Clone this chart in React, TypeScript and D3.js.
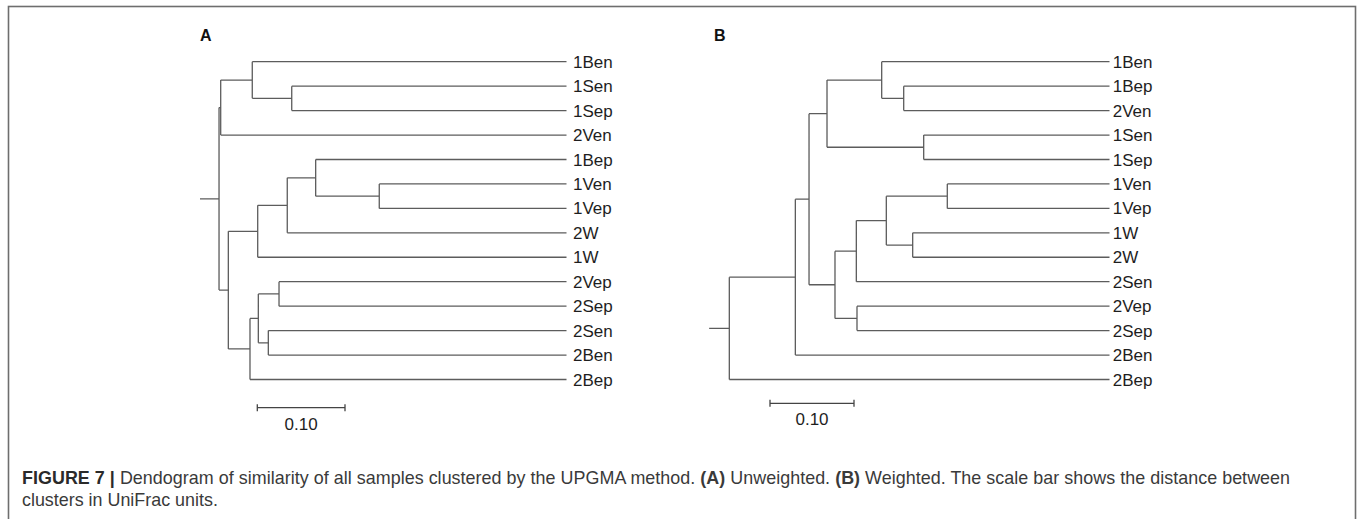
import React from "react";
import * as d3 from "d3";

// Leaf order and UPGMA merges (child a, child b, node height in UniFrac units).
// Children refer to a leaf name or to the index of an earlier merge.
const leavesA = ["1Ben", "1Sen", "1Sep", "2Ven", "1Bep", "1Ven", "1Vep", "2W", "1W", "2Vep", "2Sep", "2Sen", "2Ben", "2Bep"];
const mergesA: [string | number, string | number, number][] = [
  ["1Sen", "1Sep", 0.3133],
  ["1Ben", 0, 0.3583],
  [1, "2Ven", 0.3943],
  ["1Ven", "1Vep", 0.2135],
  ["1Bep", 3, 0.286],
  [4, "2W", 0.3184],
  [5, "1W", 0.3521],
  ["2Vep", "2Sep", 0.3278],
  ["2Sen", "2Ben", 0.34],
  [7, 8, 0.3514],
  [9, "2Bep", 0.3609],
  [6, 10, 0.3856],
  [2, 11, 0.3962],
];

const leavesB = ["1Ben", "1Bep", "2Ven", "1Sen", "1Sep", "1Ven", "1Vep", "1W", "2W", "2Sen", "2Vep", "2Sep", "2Ben", "2Bep"];
const mergesB: [string | number, string | number, number][] = [
  ["1Bep", "2Ven", 0.245],
  ["1Ben", 0, 0.2712],
  ["1Sen", "1Sep", 0.2212],
  [1, 2, 0.3363],
  ["1Ven", "1Vep", 0.1931],
  ["1W", "2W", 0.2343],
  [4, 5, 0.2657],
  [6, "2Sen", 0.3014],
  ["2Vep", "2Sep", 0.3006],
  [7, 8, 0.3268],
  [3, 9, 0.3577],
  [10, "2Ben", 0.374],
  [11, "2Bep", 0.4526],
];

const rootEdgeA = 0.0217;
const rootEdgeB = 0.024;
const scaleBarValue = 0.1;
const scaleBarLabel = "0.10";

type TNode = { name?: string; height: number; children?: TNode[] };

function buildTree(merges: [string | number, string | number, number][]): TNode {
  const built: TNode[] = [];
  const ref = (c: string | number): TNode =>
    typeof c === "number" ? built[c] : { name: c, height: 0 };
  merges.forEach(([a, b, h]) => built.push({ height: h, children: [ref(a), ref(b)] }));
  return built[built.length - 1];
}

type PanelProps = {
  letter: string;
  leaves: string[];
  merges: [string | number, string | number, number][];
  rootEdge: number;
  tipX: number;
  pxPerBar: number;
  letterX: number;
  barX: number;
  barY: number;
  labelGap: number;
};

const LINE = "#5c5c5c";
const TEXT = "#1e1e1e";
const FONT = "'Liberation Sans', Arial, Helvetica, sans-serif";

function Dendrogram(p: PanelProps) {
  const root = d3.hierarchy<TNode>(buildTree(p.merges));
  const x = d3.scaleLinear().domain([0, scaleBarValue]).range([p.tipX, p.tipX - p.pxPerBar]);
  const y = d3.scalePoint<string>().domain(p.leaves).range([61.7, 379.5]);

  const pos = new Map<d3.HierarchyNode<TNode>, number>();
  root.eachAfter((n) => {
    if (!n.children) pos.set(n, y(n.data.name!)!);
    else pos.set(n, d3.mean(n.children, (c) => pos.get(c)!)!);
  });

  const segs: string[] = [];
  root.each((n) => {
    if (!n.children) return;
    const nx = x(n.data.height);
    const ys = n.children.map((c) => pos.get(c)!);
    segs.push(`M${nx},${d3.min(ys)}V${d3.max(ys)}`);
    n.children.forEach((c) => {
      segs.push(`M${nx},${pos.get(c)}H${x(c.data.height)}`);
    });
  });
  const rootY = pos.get(root)!;
  const rx = x(root.data.height);
  segs.push(`M${x(root.data.height + p.rootEdge)},${rootY}H${rx}`);

  const barX1 = p.barX + (x(0) - x(scaleBarValue));

  return (
    <g>
      <text x={p.letterX} y={41} fontFamily={FONT} fontWeight="bold" fontSize={16} fill="#111">
        {p.letter}
      </text>
      <path d={segs.join("")} fill="none" stroke={LINE} strokeWidth={1.3} />
      {root.leaves().map((l) => (
        <text
          key={l.data.name}
          x={p.tipX + p.labelGap}
          y={pos.get(l)!}
          dy="0.36em"
          fontFamily={FONT}
          fontSize={17}
          fill={TEXT}
        >
          {l.data.name}
        </text>
      ))}
      <g stroke="#444" strokeWidth={1.3}>
        <line x1={p.barX} x2={barX1} y1={p.barY} y2={p.barY} />
        <line x1={p.barX} x2={p.barX} y1={p.barY - 3.5} y2={p.barY + 3.5} />
        <line x1={barX1} x2={barX1} y1={p.barY - 3.5} y2={p.barY + 3.5} />
      </g>
      <text
        x={(p.barX + barX1) / 2}
        y={p.barY + 22}
        textAnchor="middle"
        fontFamily={FONT}
        fontSize={17}
        fill={TEXT}
      >
        {scaleBarLabel}
      </text>
    </g>
  );
}

export default function App() {
  return (
    <svg
      width={1357}
      height={519}
      style={{ position: "absolute", left: 0, top: 0, background: "#fff" }}
    >
      <rect x={8.5} y={6.5} width={1347} height={540} fill="none" stroke="#6e6e6e" strokeWidth={1.6} />
      <Dendrogram
        letter="A"
        leaves={leavesA}
        merges={mergesA}
        rootEdge={rootEdgeA}
        tipX={566.5}
        pxPerBar={87.7}
        letterX={200}
        barX={257.3}
        barY={407.7}
        labelGap={6.5}
      />
      <Dendrogram
        letter="B"
        leaves={leavesB}
        merges={mergesB}
        rootEdge={rootEdgeB}
        tipX={1109.5}
        pxPerBar={84}
        letterX={714}
        barX={770}
        barY={403.3}
        labelGap={3.2}
      />
      <text x={22} y={484} fontFamily={FONT} fontSize={17.9} fill="#3a3a3a" textLength={1268} lengthAdjust="spacing">
        <tspan fontWeight="bold" fill="#2a2a2a">FIGURE 7 | </tspan>
        <tspan>Dendogram of similarity of all samples clustered by the UPGMA method. </tspan>
        <tspan fontWeight="bold">(A)</tspan>
        <tspan> Unweighted. </tspan>
        <tspan fontWeight="bold">(B)</tspan>
        <tspan> Weighted. The scale bar shows the distance between</tspan>
      </text>
      <text x={22} y={506} fontFamily={FONT} fontSize={17.9} fill="#3a3a3a">
        clusters in UniFrac units.
      </text>
    </svg>
  );
}
